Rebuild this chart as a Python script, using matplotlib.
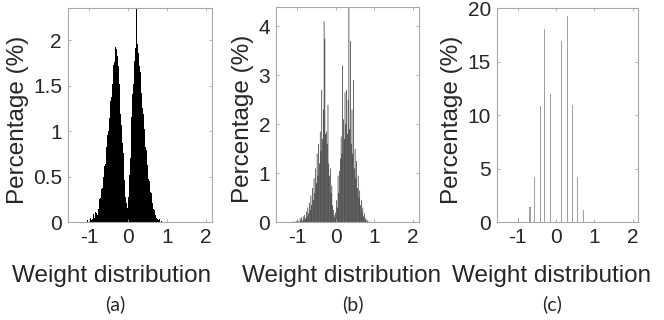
import matplotlib
matplotlib.use('Agg')
import matplotlib.pyplot as plt
import numpy as np

plt.rcParams['font.family'] = ['Liberation Sans', 'DejaVu Sans']

# (a) full precision weights, bins 0.02 wide from -1.10 to 0.88
a_bins = np.linspace(-1.10, 0.88, 100)
a_vals = [
    # -1.10 .. -0.80
    0.01, 0.00, 0.00, 0.02, 0.00, 0.03, 0.00, 0.04, 0.02, 0.06, 0.03, 0.09, 0.04, 0.11, 0.06, 0.10,
    # -0.78 .. -0.30
    0.08, 0.14, 0.17, 0.25, 0.27, 0.36, 0.37, 0.48, 0.50, 0.62, 0.64, 0.78, 0.83,
    0.96, 1.00, 1.14, 1.18, 1.33, 1.38, 1.52, 1.57, 1.73, 1.76, 1.92, 1.90,
    # -0.28 .. -0.02
    2.03, 1.83, 1.72, 1.52, 1.40, 1.19, 1.07, 0.87, 0.76, 0.55, 0.46, 0.28, 0.21, 0.10,
    # 0.00 .. 0.24
    0.16, 0.28, 0.52, 0.70, 0.97, 1.15, 1.41, 1.52, 1.71, 1.77, 1.91, 2.60, 1.96,
    # 0.26 .. 0.76
    1.88, 1.86, 1.72, 1.65, 1.47, 1.42, 1.25, 1.19, 1.02, 0.98, 0.82, 0.79, 0.63,
    0.60, 0.47, 0.45, 0.33, 0.32, 0.22, 0.21, 0.14, 0.13, 0.08, 0.08, 0.04, 0.03,
    # 0.78 .. 0.88
    0.02, 0.01, 0.03, 0.00, 0.01, 0.00,
]

# (b) spiky histogram, same bins
b_bins = np.linspace(-1.10, 0.88, 100)
b_vals = [
    0.00, 0.02, 0.00, 0.00, 0.03, 0.00, 0.05, 0.02, 0.00, 0.08, 0.04, 0.10, 0.03, 0.12, 0.06, 0.15,
    0.08, 0.22, 0.12, 0.30, 0.18, 0.40, 0.25, 0.55, 0.35, 0.70, 0.45, 0.90, 0.60,
    1.10, 0.80, 1.40, 0.95, 1.60, 1.20, 1.85, 1.45, 2.70, 1.70, 2.30, 4.10,
    3.75, 1.80, 1.85, 1.60, 2.40, 1.20, 0.95, 1.10, 0.60, 0.75, 0.35, 0.25, 0.15, 0.10,
    0.20, 0.45, 0.30, 0.95, 0.60, 1.05, 1.30, 1.75, 1.40, 3.20, 2.10, 1.70, 2.65,
    2.00, 2.70, 1.80, 2.50, 5.00, 1.90, 3.70, 1.60, 2.30, 1.40, 2.90, 1.10, 1.50,
    0.90, 1.25, 0.70, 0.95, 0.50, 0.65, 0.35, 0.45, 0.22, 0.30, 0.12, 0.18, 0.06,
    0.08, 0.02, 0.04, 0.00, 0.02, 0.00,
]

# (c) quantized weights
c_levels = [-0.98, -0.68, -0.56, -0.41, -0.29, -0.14, 0.15, 0.30, 0.44, 0.57, 0.71]
c_vals = [0.35, 1.4, 4.2, 10.9, 18.1, 12.0, 16.9, 19.3, 11.0, 4.2, 1.1]

x_ticks = [-1, 0, 1, 2]
y_ticks = [[0, 0.5, 1, 1.5, 2], [0, 1, 2, 3, 4], [0, 5, 10, 15, 20]]
y_tick_labels = [['0', '0.5', '1', '1.5', '2'], ['0', '1', '2', '3', '4'],
                 ['0', '5', '10', '15', '20']]
y_lims = [2.35, 4.4, 20]
captions = ['(a)', '(b)', '(c)']

fig = plt.figure(figsize=(6.64, 3.20), dpi=100)

# axes rectangles (left, bottom, width, height) in figure fraction
rects = [
    [0.1017, 0.306, 0.2169, 0.668],
    [0.4152, 0.3053, 0.2158, 0.674],
    [0.748, 0.306, 0.2133, 0.668],
]
ylabel_x = [-0.344, -0.228, -0.316]
xlabel_x = [0.306, 0.459, 0.387]
caption_x = [115.5 / 664, 353 / 664, 552 / 664]

axes = [fig.add_axes(r) for r in rects]

axes[0].bar(a_bins, a_vals, width=0.02, color='black', linewidth=0)
axes[1].bar(b_bins, b_vals, width=0.015, color='black', linewidth=0, snap=False)
axes[2].bar(c_levels, c_vals, width=0.03, color='#a0a0a0', linewidth=0)

spine_col = '#a8a8a8'
text_col = '#262626'
for i, ax in enumerate(axes):
    ax.set_xlim(-1.55, 2.15)
    ax.set_ylim(0, y_lims[i])
    ax.set_xticks(x_ticks)
    ax.set_xticklabels(['-1', '0', '1', '2'])
    ax.set_yticks(y_ticks[i])
    ax.set_yticklabels(y_tick_labels[i])
    for s in ax.spines.values():
        s.set_color(spine_col)
        s.set_linewidth(0.8)
    ax.tick_params(direction='in', length=2.5, width=0.6, color=spine_col,
                   labelsize=15, labelcolor=text_col, top=True, right=True, pad=4)
    ax.set_xlabel('Weight distribution', fontsize=17.5, color=text_col)
    ax.set_ylabel('Percentage (%)', fontsize=17.5, color=text_col)
    ax.xaxis.label.set_va('center')
    ax.xaxis.set_label_coords(xlabel_x[i], -0.25)
    ax.yaxis.label.set_va('center')
    ax.yaxis.set_label_coords(ylabel_x[i], 0.48)
    fig.text(caption_x[i], 1 - 304 / 320, captions[i], ha='center', va='center',
             fontsize=14, color=text_col, family=['Lato', 'DejaVu Sans'])

fig.savefig('out.png', dpi=100)
